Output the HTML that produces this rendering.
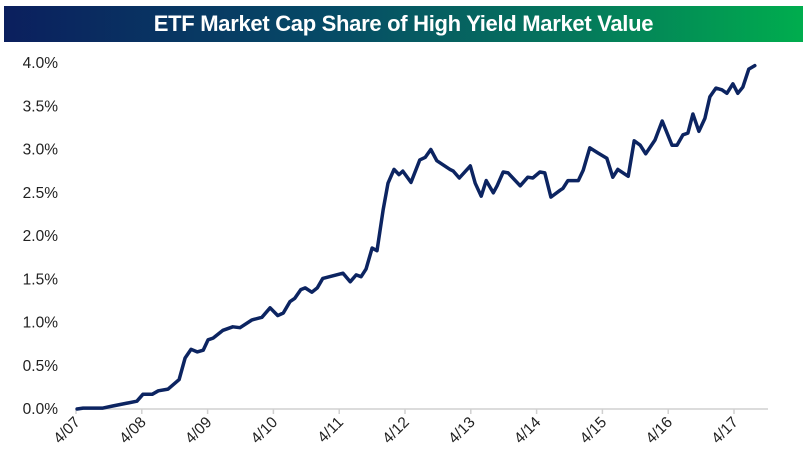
<!DOCTYPE html>
<html><head><meta charset="utf-8"><style>
body{margin:0;background:#fff;width:809px;height:471px;overflow:hidden;font-family:"Liberation Sans",sans-serif}
#title{position:absolute;left:4px;top:6px;width:799px;height:36px;background:linear-gradient(90deg,#0b1f5e 0%,#064a66 40%,#05755c 70%,#00ad4e 100%);color:#fff;font-size:22px;font-weight:bold;text-align:center;line-height:36px;letter-spacing:-0.3px}
svg{position:absolute;left:0;top:0}
</style></head><body>
<div id="title">ETF Market Cap Share of High Yield Market Value</div>
<svg id="chart" width="809" height="471"></svg>
<script>
const months=[0.2,1.3,4.9,6.7,11.1,12.2,13.9,15.0,16.8,18.8,19.9,21.0,22.1,23.2,24.1,25.0,26.8,28.6,29.9,32.1,33.9,35.4,36.8,37.8,39.0,39.9,41.0,41.8,43.0,44.0,45.0,48.7,50.0,51.1,52.0,52.9,54.0,54.9,56.0,56.9,58.0,58.9,59.6,61.1,62.7,63.7,64.7,65.8,68.2,68.8,69.9,71.9,72.8,73.9,74.8,76.1,76.8,77.9,78.8,81.0,82.4,83.3,84.6,85.5,86.6,88.3,88.8,89.7,91.6,92.5,93.7,95.2,96.8,97.9,98.8,100.7,101.8,102.9,103.9,105.6,106.9,108.7,109.6,110.7,111.6,112.5,113.6,114.7,115.6,116.7,117.8,118.7,119.8,120.7,121.6,122.7,123.8];
const values=[0,0.01,0.01,0.035,0.09,0.17,0.17,0.21,0.23,0.34,0.59,0.69,0.66,0.68,0.80,0.82,0.91,0.95,0.94,1.03,1.06,1.17,1.08,1.11,1.24,1.28,1.38,1.40,1.35,1.40,1.51,1.57,1.47,1.55,1.53,1.62,1.86,1.83,2.30,2.61,2.77,2.71,2.75,2.62,2.88,2.91,3.00,2.87,2.77,2.75,2.67,2.81,2.61,2.46,2.64,2.50,2.58,2.74,2.73,2.58,2.68,2.67,2.74,2.73,2.45,2.53,2.55,2.64,2.64,2.76,3.02,2.96,2.90,2.68,2.77,2.69,3.10,3.05,2.95,3.11,3.33,3.05,3.05,3.17,3.19,3.41,3.21,3.36,3.61,3.71,3.69,3.65,3.76,3.65,3.72,3.93,3.97];
const yTicks=[0,0.5,1,1.5,2,2.5,3,3.5,4];
const yTickLabels=["0.0%","0.5%","1.0%","1.5%","2.0%","2.5%","3.0%","3.5%","4.0%"];
const xTicks=[0,12,24,36,48,60,72,84,96,108,120];
const xTickLabels=["4/07","4/08","4/09","4/10","4/11","4/12","4/13","4/14","4/15","4/16","4/17"];
const NS="http://www.w3.org/2000/svg";
const svg=document.getElementById('chart');
const X=m=>76+m*65.8/12;
const Y=v=>409-v*86.5;
function el(t,a){const e=document.createElementNS(NS,t);for(const k in a)e.setAttribute(k,a[k]);svg.appendChild(e);return e;}
const ax=el('line',{x1:76,y1:409,x2:768,y2:409,stroke:'#d0d0d0','stroke-width':1.5});


yTicks.forEach((v,i)=>{
 const t=el('text',{x:58,y:Y(v)+5,'text-anchor':'end','font-size':15.5,fill:'#222'});
 t.textContent=yTickLabels[i];
 
 
});
xTicks.forEach((m,i)=>{
 const tk=el('line',{x1:X(m),y1:409,x2:X(m),y2:414,stroke:'#d0d0d0','stroke-width':1.5});
 
 
 const t=el('text',{x:X(m)+5,y:423,'text-anchor':'end','font-size':15.5,fill:'#222',transform:`rotate(-45 ${X(m)+5} 423)`});
 t.textContent=xTickLabels[i];
 
 
});
const d=months.map((m,i)=>(i?'L':'M')+X(m).toFixed(1)+' '+Y(values[i]).toFixed(1)).join(' ');
const p=el('path',{d:d,fill:'none',stroke:'#0c2461','stroke-width':3.5,'stroke-linejoin':'round','stroke-linecap':'round'});


</script>
</body></html>
